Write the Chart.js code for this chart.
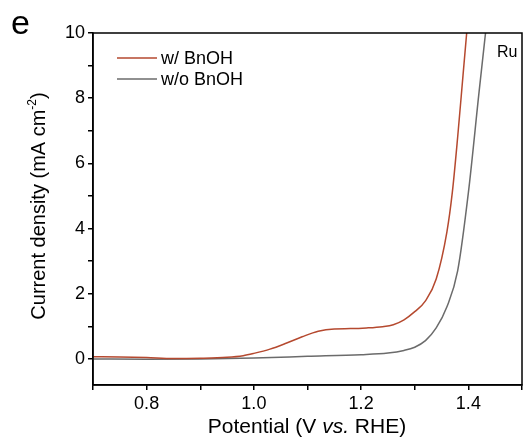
<!DOCTYPE html>
<html>
<head>
<meta charset="utf-8">
<script src="https://cdn.jsdelivr.net/npm/chart.js@4/dist/chart.umd.min.js"></script>
<style>
  html, body { margin: 0; padding: 0; background: #fff; }
  #wrap { width: 530px; height: 446px; }
</style>
</head>
<body>
<div id="wrap"><canvas id="lsv" width="530" height="446"></canvas></div>
<script>
// potentials (V vs. RHE) and current densities (mA cm-2)
const withV = [0.70, 0.75, 0.80, 0.85, 0.90, 0.95, 0.98, 1.00, 1.03, 1.06, 1.09, 1.12, 1.15, 1.18, 1.21, 1.24, 1.26, 1.28, 1.30, 1.32, 1.34, 1.36, 1.37, 1.38, 1.39, 1.40];
const withJ = [0.07, 0.06, 0.04, 0.01, 0.02, 0.05, 0.10, 0.17, 0.30, 0.48, 0.68, 0.85, 0.92, 0.93, 0.95, 0.99, 1.05, 1.20, 1.45, 1.78, 2.45, 3.9, 5.1, 6.8, 8.7, 10.6];
const withoutV = [0.70, 0.80, 0.90, 1.00, 1.10, 1.20, 1.25, 1.28, 1.30, 1.32, 1.34, 1.36, 1.38, 1.40, 1.42, 1.44];
const withoutJ = [0.00, -0.01, 0.00, 0.03, 0.08, 0.13, 0.18, 0.26, 0.36, 0.56, 0.95, 1.6, 2.7, 5.1, 8.2, 11.2];

const xTicks = [0.7, 0.8, 0.9, 1.0, 1.1, 1.2, 1.3, 1.4, 1.5];
const xLabels = ['', '0.8', '', '1.0', '', '1.2', '', '1.4', ''];
const yTicks = [0, 1, 2, 3, 4, 5, 6, 7, 8, 9, 10];
const yLabels = ['0', '', '2', '', '4', '', '6', '', '8', '', '10'];

const seriesNames = ['w/ BnOH', 'w/o BnOH'];
const seriesColors = ['#b5492f', '#6b6b6b'];

const FONT = "'Liberation Sans', Arial, sans-serif";

const toPoints = (xs, ys) => xs.map((x, i) => ({ x, y: ys[i] }));

const decorations = {
  id: 'decorations',
  afterDraw(chart) {
    const { ctx, chartArea: a } = chart;
    ctx.save();
    // box frame
    ctx.strokeStyle = '#000';
    ctx.lineWidth = 1.5;
    ctx.strokeRect(a.left, a.top, a.right - a.left, a.bottom - a.top);

    // legend
    ctx.font = `18px ${FONT}`;
    ctx.textBaseline = 'middle';
    ctx.textAlign = 'left';
    seriesNames.forEach((name, i) => {
      const y = 58 + i * 21;
      ctx.strokeStyle = seriesColors[i];
      ctx.lineWidth = 1.5;
      ctx.beginPath();
      ctx.moveTo(117, y);
      ctx.lineTo(157, y);
      ctx.stroke();
      ctx.fillStyle = '#000';
      ctx.fillText(name, 161, y + 1);
    });

    // Ru label
    ctx.font = `16px ${FONT}`;
    ctx.fillText('Ru', 497, 53);

    // panel letter
    ctx.font = `34px ${FONT}`;
    ctx.textBaseline = 'alphabetic';
    ctx.fillText('e', 11, 34);

    // x title with italic "vs."
    const parts = [['Potential (V ', 'normal'], ['vs.', 'italic'], [' RHE)', 'normal']];
    let total = 0;
    parts.forEach(([t, s]) => { ctx.font = `${s} 21px ${FONT}`; total += ctx.measureText(t).width; });
    let x = 307 - total / 2;
    parts.forEach(([t, s]) => {
      ctx.font = `${s} 21px ${FONT}`;
      ctx.fillText(t, x, 433);
      x += ctx.measureText(t).width;
    });

    // y title with superscript
    ctx.translate(45, 206);
    ctx.rotate(-Math.PI / 2);
    const main = 'Current density (mA cm';
    ctx.font = `20px ${FONT}`;
    const w1 = ctx.measureText(main).width;
    ctx.font = `12px ${FONT}`;
    const w2 = ctx.measureText('-2').width;
    ctx.font = `20px ${FONT}`;
    const w3 = ctx.measureText(')').width;
    let sx = -(w1 + w2 + w3) / 2;
    ctx.fillText(main, sx, 0);
    sx += w1;
    ctx.font = `12px ${FONT}`;
    ctx.fillText('-2', sx, -9);
    sx += w2;
    ctx.font = `20px ${FONT}`;
    ctx.fillText(')', sx, 0);
    ctx.restore();
  },
};

new Chart(document.getElementById('lsv'), {
  type: 'line',
  data: {
    datasets: [
      {
        label: seriesNames[0],
        data: toPoints(withV, withJ),
        borderColor: seriesColors[0],
        borderWidth: 1.5,
        pointRadius: 0,
        cubicInterpolationMode: 'monotone',
        fill: false,
      },
      {
        label: seriesNames[1],
        data: toPoints(withoutV, withoutJ),
        borderColor: seriesColors[1],
        borderWidth: 1.5,
        pointRadius: 0,
        cubicInterpolationMode: 'monotone',
        fill: false,
      },
    ],
  },
  options: {
    responsive: false,
    animation: false,
    layout: { padding: { top: 33, right: 8, left: 0, bottom: 0 } },
    plugins: { legend: { display: false }, tooltip: { enabled: false } },
    scales: {
      x: {
        type: 'linear',
        min: 0.7,
        max: 1.5,
        afterBuildTicks: (s) => { s.ticks = xTicks.map((v) => ({ value: v })); },
        afterFit: (s) => { s.height = 61; },
        ticks: {
          autoSkip: false,
          maxRotation: 0,
          color: '#000',
          padding: 3,
          font: { family: FONT, size: 18 },
          callback: (v) => xLabels[xTicks.findIndex((t) => Math.abs(t - v) < 1e-6)] ?? '',
        },
        grid: { drawOnChartArea: false, tickLength: 5, color: '#000', lineWidth: 1.5 },
        border: { color: '#000', width: 1.5 },
      },
      y: {
        type: 'linear',
        min: -0.8,
        max: 10,
        afterBuildTicks: (s) => { s.ticks = yTicks.map((v) => ({ value: v })); },
        afterFit: (s) => { s.width = 93; },
        ticks: {
          autoSkip: false,
          color: '#000',
          padding: 3,
          font: { family: FONT, size: 18 },
          callback: (v) => yLabels[yTicks.indexOf(v)] ?? '',
        },
        grid: { drawOnChartArea: false, tickLength: 5, color: '#000', lineWidth: 1.5 },
        border: { color: '#000', width: 1.5 },
      },
    },
  },
  plugins: [decorations],
});
</script>
</body>
</html>
